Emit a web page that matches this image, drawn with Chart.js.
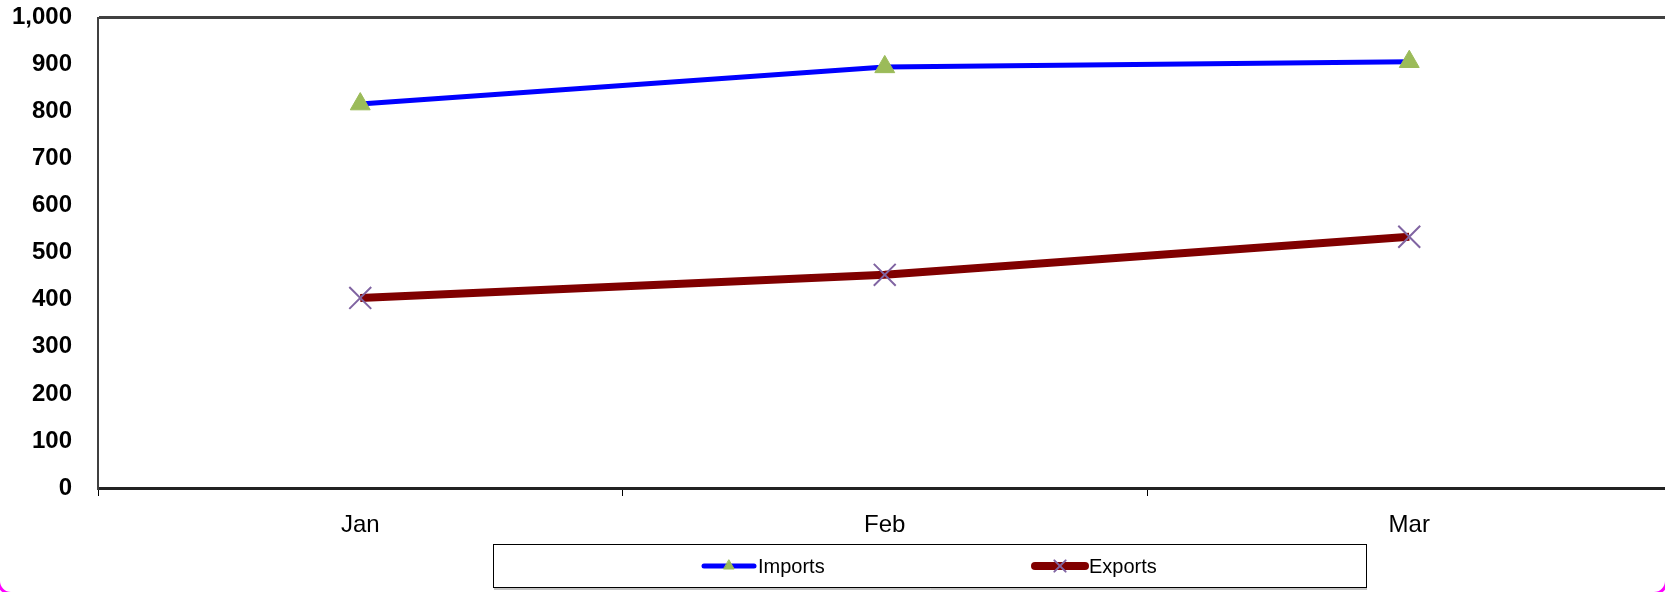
<!DOCTYPE html>
<html>
<head>
<meta charset="utf-8">
<script src="https://cdn.jsdelivr.net/npm/chart.js@4.4.0/dist/chart.umd.min.js"></script>
<style>
  html, body { margin: 0; padding: 0; background: #fff; overflow: hidden; }
  body { width: 1665px; height: 592px; position: relative; }
  #wrap { position: absolute; left: 0; top: 0; width: 1689px; height: 592px; }
  #frame {
    position: absolute; left: -3px; top: -30px; width: 1665px; height: 619px;
    border: 3px solid #ff00ff; border-radius: 14px; pointer-events: none;
  }
</style>
</head>
<body>
<div id="wrap"><canvas id="chart"></canvas></div>
<div id="frame"></div>
<script>
const categories = ['Jan', 'Feb', 'Mar'];
const importsData = [816, 895, 906];
const exportsData = [404, 453, 534];
const yMin = 0;
const yMax = 1000;
const yStep = 100;

const legendBox = {
  id: 'legendBox',
  afterDraw(chart) {
    const ctx = chart.ctx;
    ctx.save();
    ctx.strokeStyle = '#000';
    ctx.lineWidth = 1;
    ctx.strokeRect(493.5, 544.5, 873, 43);
    ctx.strokeStyle = '#888';
    ctx.beginPath();
    ctx.moveTo(494, 589);
    ctx.lineTo(1367, 589);
    ctx.stroke();

    const items = [
      { ds: chart.data.datasets[0], x: 704, r: 6 },
      { ds: chart.data.datasets[1], x: 1035, r: 8 }
    ];
    const y = 566;
    ctx.font = '20px "Liberation Sans", Arial, sans-serif';
    ctx.textBaseline = 'middle';
    items.forEach(it => {
      ctx.strokeStyle = it.ds.borderColor;
      ctx.lineWidth = it.ds.borderWidth;
      ctx.lineCap = 'round';
      ctx.beginPath();
      ctx.moveTo(it.x, y);
      ctx.lineTo(it.x + 50, y);
      ctx.stroke();
      ctx.fillStyle = it.ds.pointBackgroundColor;
      ctx.strokeStyle = it.ds.pointBorderColor;
      ctx.lineWidth = it.ds.pointBorderWidth;
      Chart.helpers.drawPoint(ctx, {
        pointStyle: it.ds.pointStyle, radius: it.r, borderWidth: it.ds.pointBorderWidth
      }, it.x + 25, y);
      ctx.fillStyle = '#000';
      ctx.fillText(it.ds.label, it.x + 54, y + 1);
    });
    ctx.restore();
  }
};

new Chart(document.getElementById('chart'), {
  type: 'line',
  data: {
    labels: categories,
    datasets: [{
      label: 'Imports',
      data: importsData,
      borderColor: '#0000ff',
      borderWidth: 5,
      pointStyle: 'triangle',
      pointRadius: 11.5,
      pointHoverRadius: 11.5,
      pointBackgroundColor: '#9bbb59',
      pointBorderColor: '#9bbb59',
      pointBorderWidth: 1,
      tension: 0
    }, {
      label: 'Exports',
      data: exportsData,
      borderColor: '#800000',
      borderWidth: 8,
      pointStyle: 'crossRot',
      pointRadius: 15.5,
      pointHoverRadius: 15.5,
      pointBackgroundColor: '#8064a2',
      pointBorderColor: '#8064a2',
      pointBorderWidth: 2,
      tension: 0
    }]
  },
  options: {
    responsive: true,
    maintainAspectRatio: false,
    animation: false,
    layout: { padding: { top: 16, left: 0, right: 1, bottom: 0 } },
    plugins: { legend: { display: false }, tooltip: { enabled: false } },
    scales: {
      x: {
        offset: true,
        afterFit: s => { s.height = 104; s.paddingLeft = 0; s.paddingRight = 0; },
        grid: {
          offset: true, drawOnChartArea: false, drawTicks: true,
          tickLength: 8, color: '#000', lineWidth: 1
        },
        border: { color: '#222', width: 3 },
        ticks: {
          color: '#000', padding: 15,
          font: { family: '"Liberation Sans Narrow", "Liberation Sans", Arial', size: 24 }
        }
      },
      y: {
        min: yMin, max: yMax,
        afterFit: s => { s.width = 98; s.paddingTop = 0; s.paddingBottom = 0; },
        grid: {
          drawTicks: false, lineWidth: 3,
          color: ctx => ctx.tick && ctx.tick.value === yMax ? '#404040' : 'rgba(0,0,0,0)'
        },
        border: { color: '#404040', width: 2 },
        ticks: {
          stepSize: yStep, color: '#000', padding: 26,
          font: { family: '"Liberation Sans", Arial', size: 24, weight: 'bold' },
          callback: v => v.toLocaleString('en-US')
        }
      }
    }
  },
  plugins: [legendBox]
});
</script>
</body>
</html>
